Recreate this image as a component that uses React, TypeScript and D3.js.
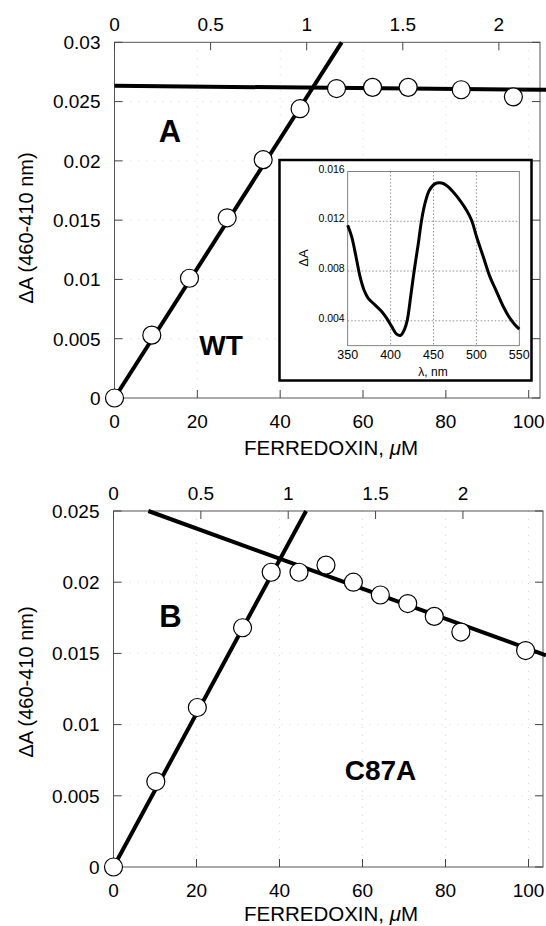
import React from "react";
import * as d3 from "d3";

// ---------- Data ----------
// Panel A (WT)
const ferredoxinA = [0, 9.0, 18.1, 27.2, 35.9, 44.8, 53.6, 62.3, 70.9, 83.7, 96.3];
const deltaA_A = [0, 0.0053, 0.0101, 0.0152, 0.0201, 0.0244, 0.0261, 0.0262, 0.0262, 0.026, 0.0254];
const fitRiseA: [number, number][] = [[0, 0], [54.85, 0.03]];
const fitFlatA: [number, number][] = [[0, 0.02633], [104.2, 0.02599]];

// Panel B (C87A)
const ferredoxinB = [0, 10.2, 20.2, 31.1, 38.0, 44.7, 51.2, 57.8, 64.3, 70.9, 77.3, 83.7, 99.3];
const deltaA_B = [0, 0.006, 0.0112, 0.0168, 0.0207, 0.0207, 0.0212, 0.02, 0.0191, 0.0185, 0.0176, 0.0165, 0.0152];
const fitRiseB: [number, number][] = [[0, 0], [46.4, 0.025]];
const fitFallB: [number, number][] = [[8.4, 0.025], [104.2, 0.01487]];

// Inset spectrum
const lambda = [350, 354.7, 359.7, 364.4, 369, 374, 381.8, 389.6, 395.4, 401.2, 407, 411.7, 416, 419.5, 423.4, 427.6, 432.3, 436.1, 440, 445, 451.7, 459.4, 465.2, 473, 480.8, 488.5, 494.4, 500.2, 508, 515.7, 523.5, 531.3, 539, 544.9, 550];
const spectrum = [0.01168, 0.01075, 0.00915, 0.00755, 0.00648, 0.00581, 0.00528, 0.00475, 0.00421, 0.00355, 0.00293, 0.00283, 0.00328, 0.00408, 0.00595, 0.00808, 0.01021, 0.01208, 0.01341, 0.01448, 0.01501, 0.01507, 0.01488, 0.01435, 0.01368, 0.01288, 0.01208, 0.01075, 0.00915, 0.00755, 0.00635, 0.00515, 0.00421, 0.00368, 0.00333];

// Ticks
const xTicks = [0, 20, 40, 60, 80, 100];
const ratioTicks = [0, 0.5, 1, 1.5, 2];
const yTicksA = [0, 0.005, 0.01, 0.015, 0.02, 0.025, 0.03];
const yTicksB = [0, 0.005, 0.01, 0.015, 0.02, 0.025];
const insetXTicks = [350, 400, 450, 500, 550];
const insetYTicks = [0.004, 0.008, 0.012, 0.016];

const FONT = "'Liberation Sans', Arial, Helvetica, sans-serif";

type PanelProps = {
  left: number;
  right: number;
  top: number;
  bottom: number;
  xMax: number;
  yMax: number;
  yTicks: number[];
  umPerRatio: number;
  xs: number[];
  ys: number[];
  lines: [number, number][][];
  labelBaseline: number;
  titleBaseline: number;
  yTitleCenter: number;
};

function Panel(p: PanelProps) {
  const x = d3.scaleLinear().domain([0, p.xMax]).range([p.left, p.right]);
  const y = d3.scaleLinear().domain([0, p.yMax]).range([p.bottom, p.top]);
  const r = d3.scaleLinear().domain([0, p.xMax / p.umPerRatio]).range([p.left, p.right]);
  const line = d3
    .line<[number, number]>()
    .x((d) => x(d[0]))
    .y((d) => y(d[1]));
  const tl = 8;
  const yFmt = (v: number) => (v === 0 ? "0" : d3.format("")(+v.toFixed(3)));
  return (
    <g>
      {/* faint grid */}
      {xTicks.slice(1).map((t) => (
        <line key={"gx" + t} x1={x(t)} x2={x(t)} y1={p.top} y2={p.bottom} stroke="#c8c8c8" strokeWidth={0.7} strokeDasharray="1 7" />
      ))}
      {p.yTicks.slice(1, -1).map((t) => (
        <line key={"gy" + t} x1={p.left} x2={p.right} y1={y(t)} y2={y(t)} stroke="#c8c8c8" strokeWidth={0.7} strokeDasharray="1 7" />
      ))}
      {/* frame */}
      <rect x={p.left} y={p.top} width={p.right - p.left} height={p.bottom - p.top} fill="none" stroke="#555" strokeWidth={1} />
      {/* bottom ticks */}
      {xTicks.map((t) => (
        <g key={"bx" + t}>
          <line x1={x(t)} x2={x(t)} y1={p.bottom} y2={p.bottom - tl} stroke="#444" strokeWidth={1} />
          <text x={x(t)} y={p.labelBaseline} textAnchor="middle" fontSize={19} fontFamily={FONT}>
            {t}
          </text>
        </g>
      ))}
      {/* top ticks */}
      {ratioTicks.map((t) => (
        <g key={"tx" + t}>
          <line x1={r(t)} x2={r(t)} y1={p.top} y2={p.top + tl} stroke="#444" strokeWidth={1} />
          <text x={r(t)} y={p.top - 11} textAnchor="middle" fontSize={19} fontFamily={FONT}>
            {t}
          </text>
        </g>
      ))}
      {/* left / right ticks */}
      {p.yTicks.map((t) => (
        <g key={"ly" + t}>
          <line x1={p.left} x2={p.left + tl} y1={y(t)} y2={y(t)} stroke="#444" strokeWidth={1} />
          <line x1={p.right} x2={p.right - tl} y1={y(t)} y2={y(t)} stroke="#444" strokeWidth={1} />
          <text x={p.left - 14} y={y(t)} dy="0.36em" textAnchor="end" fontSize={19} fontFamily={FONT}>
            {yFmt(t)}
          </text>
        </g>
      ))}
      {/* titles */}
      <text x={331} y={p.titleBaseline} textAnchor="middle" fontSize={20.5} fontFamily={FONT}>
        FERREDOXIN, <tspan fontStyle="italic">μ</tspan>M
      </text>
      <text transform={`translate(33,${p.yTitleCenter}) rotate(-90)`} textAnchor="middle" fontSize={20} fontFamily={FONT}>
        ΔA (460-410 nm)
      </text>
      {/* fit lines */}
      {p.lines.map((l, i) => (
        <path key={"l" + i} d={line(l) || ""} fill="none" stroke="#000" strokeWidth={4} />
      ))}
      {/* points */}
      {p.xs.map((v, i) => (
        <circle key={"c" + i} cx={x(v)} cy={y(p.ys[i])} r={9} fill="#fff" stroke="#000" strokeWidth={1.2} />
      ))}
    </g>
  );
}

function Inset() {
  const fx = { l: 279.5, t: 160, r: 531.5, b: 380.5 };
  const x = d3.scaleLinear().domain([350, 550]).range([347.7, 519.3]);
  const y = d3.scaleLinear().domain([0.002, 0.016]).range([345.7, 171.5]);
  const pts = lambda.map((l, i) => [l, spectrum[i]] as [number, number]);
  const path = d3
    .line<[number, number]>()
    .x((d) => x(d[0]))
    .y((d) => y(d[1]))
    .curve(d3.curveCatmullRom.alpha(0.5))(pts);
  return (
    <g>
      <rect x={fx.l} y={fx.t} width={fx.r - fx.l} height={fx.b - fx.t} fill="#fff" stroke="#000" strokeWidth={2.5} />
      {insetXTicks.slice(1, -1).map((t) => (
        <line key={"igx" + t} x1={x(t)} x2={x(t)} y1={y(0.016)} y2={y(0.002)} stroke="#777" strokeWidth={0.8} strokeDasharray="1.5 2" />
      ))}
      {insetYTicks.slice(0, -1).map((t) => (
        <line key={"igy" + t} x1={x(350)} x2={x(550)} y1={y(t)} y2={y(t)} stroke="#777" strokeWidth={0.8} strokeDasharray="1.5 2" />
      ))}
      <rect x={x(350)} y={y(0.016)} width={x(550) - x(350)} height={y(0.002) - y(0.016)} fill="none" stroke="#666" strokeWidth={0.8} />
      {insetXTicks.map((t) => (
        <text key={"itx" + t} x={x(t)} y={358.5} textAnchor="middle" fontSize={12.5} fontFamily={FONT}>
          {t}
        </text>
      ))}
      {insetYTicks.map((t) => (
        <text key={"ity" + t} x={x(350) - 3} y={y(t)} dy="0.1em" textAnchor="end" fontSize={10.5} fontFamily={FONT}>
          {t.toFixed(3)}
        </text>
      ))}
      <text x={433} y={376} textAnchor="middle" fontSize={12} fontFamily={FONT}>
        λ, nm
      </text>
      <text transform={`translate(308,258) rotate(-90)`} textAnchor="middle" fontSize={13} fontFamily={FONT}>
        ΔA
      </text>
      <path d={path || ""} fill="none" stroke="#000" strokeWidth={3} strokeLinejoin="round" />
    </g>
  );
}

export default function App() {
  return (
    <svg
      width={546}
      height={926}
      viewBox="0 0 546 926"
      style={{ position: "absolute", left: 0, top: 0, background: "#fff" }}
    >
      <rect x={0} y={0} width={546} height={926} fill="#fff" />
      <Panel
        left={114.5}
        right={540}
        top={42.3}
        bottom={398}
        xMax={(540 - 114.5) / 4.142}
        yMax={0.03}
        yTicks={yTicksA}
        umPerRatio={46.4}
        xs={ferredoxinA}
        ys={deltaA_A}
        lines={[fitRiseA, fitFlatA]}
        labelBaseline={428}
        titleBaseline={455}
        yTitleCenter={228}
      />
      <Inset />
      <text x={170} y={141.5} textAnchor="middle" fontSize={31} fontWeight="bold" fontFamily={FONT}>
        A
      </text>
      <text x={221} y={355} textAnchor="middle" fontSize={28} fontWeight="bold" fontFamily={FONT}>
        WT
      </text>
      <Panel
        left={113.5}
        right={543}
        top={511}
        bottom={867}
        xMax={(543 - 113.5) / 4.15}
        yMax={0.025}
        yTicks={yTicksB}
        umPerRatio={42.1}
        xs={ferredoxinB}
        ys={deltaA_B}
        lines={[fitRiseB, fitFallB]}
        labelBaseline={896.5}
        titleBaseline={921}
        yTitleCenter={682}
      />
      <text x={170.5} y={627} textAnchor="middle" fontSize={31} fontWeight="bold" fontFamily={FONT}>
        B
      </text>
      <text x={380.5} y={780} textAnchor="middle" fontSize={28} fontWeight="bold" fontFamily={FONT}>
        C87A
      </text>
    </svg>
  );
}
